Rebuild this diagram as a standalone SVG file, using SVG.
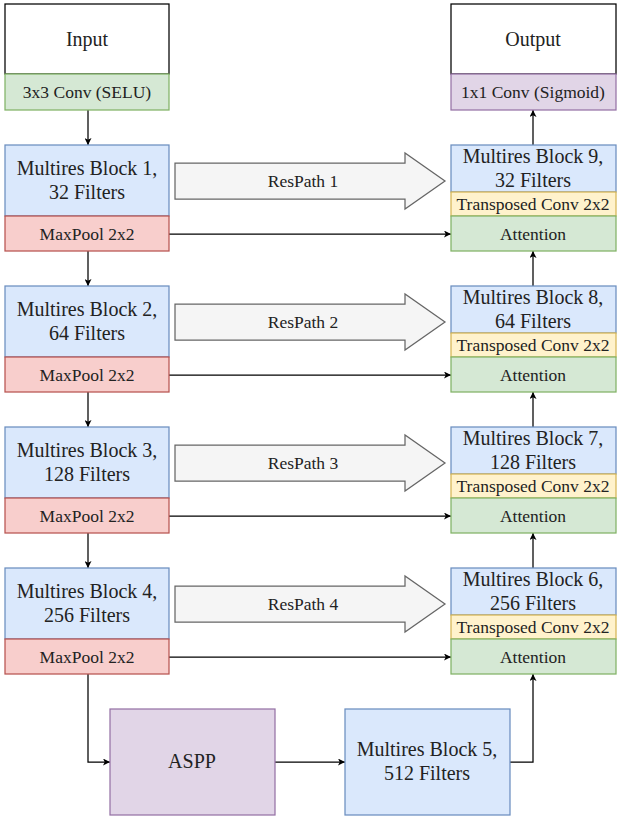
<svg xmlns="http://www.w3.org/2000/svg" width="620" height="820" viewBox="0 0 620 820">
<style>
text{font-family:"Liberation Serif","Times New Roman",serif;fill:#222;text-anchor:middle}
.big{font-size:20px}
.sm{font-size:17.5px}
rect{stroke-width:1.25}
.w{fill:#fff;stroke:#000}
.b{fill:#dae8fc;stroke:#6c8ebf}
.r{fill:#f8cecc;stroke:#b85450}
.g{fill:#d5e8d4;stroke:#82b366}
.y{fill:#fff2cc;stroke:#d6b656}
.p{fill:#e1d5e7;stroke:#9673a6}
.ra{fill:#f5f5f5;stroke:#666;stroke-width:1.25}
.c{fill:none;stroke:#000;stroke-width:1.25}
</style>
<defs>
<marker id="ah" viewBox="0 0 10 10" refX="10" refY="5" markerWidth="7" markerHeight="7" markerUnits="userSpaceOnUse" orient="auto">
<path d="M0,0 L10,5 L0,10 L2.5,5 Z" fill="#000"/>
</marker>
</defs>
<g id="connectors">
<path class="c" d="M88,110 V145" marker-end="url(#ah)"/>
<path class="c" d="M88,251 V286" marker-end="url(#ah)"/>
<path class="c" d="M88,392 V427" marker-end="url(#ah)"/>
<path class="c" d="M88,533 V568" marker-end="url(#ah)"/>
<path class="c" d="M88,674 V762 H110" marker-end="url(#ah)"/>
<path class="c" d="M275,762 H345" marker-end="url(#ah)"/>
<path class="c" d="M510,762 H533 V674" marker-end="url(#ah)"/>
<path class="c" d="M533,568 V533" marker-end="url(#ah)"/>
<path class="c" d="M533,427 V392" marker-end="url(#ah)"/>
<path class="c" d="M533,286 V251" marker-end="url(#ah)"/>
<path class="c" d="M533,145 V110" marker-end="url(#ah)"/>
<path class="c" d="M169,234 H451" marker-end="url(#ah)"/>
<path class="c" d="M169,375 H451" marker-end="url(#ah)"/>
<path class="c" d="M169,516 H451" marker-end="url(#ah)"/>
<path class="c" d="M169,657 H451" marker-end="url(#ah)"/>
</g>
<g id="respath1"><path class="ra" d="M175,163 H405 V153 L445,181 L405,209 V199 H175 Z"/><text class="sm" x="303" y="187">ResPath 1</text></g>
<g id="respath2"><path class="ra" d="M175,304 H405 V294 L445,322 L405,350 V340 H175 Z"/><text class="sm" x="303" y="328">ResPath 2</text></g>
<g id="respath3"><path class="ra" d="M175,445 H405 V435 L445,463 L405,491 V481 H175 Z"/><text class="sm" x="303" y="469">ResPath 3</text></g>
<g id="respath4"><path class="ra" d="M175,586 H405 V576 L445,604 L405,632 V622 H175 Z"/><text class="sm" x="303" y="610">ResPath 4</text></g>
<g id="input">
<rect class="w" x="5" y="4" width="164" height="70"/><text class="big" x="87" y="46">Input</text>
<rect class="g" x="5" y="74" width="164" height="36"/><text class="sm" x="87" y="98">3x3 Conv (SELU)</text>
</g>
<g id="output">
<rect class="w" x="451" y="4" width="165" height="70"/><text class="big" x="533" y="46">Output</text>
<rect class="p" x="451" y="74" width="165" height="36"/><text class="sm" x="533" y="98">1x1 Conv (Sigmoid)</text>
</g>
<g id="mb1">
<rect class="b" x="5" y="145" width="164" height="71"/><text class="big" x="87" y="175">Multires Block 1,</text><text class="big" x="87" y="199">32 Filters</text>
<rect class="r" x="5" y="216" width="164" height="35"/><text class="sm" x="87" y="240">MaxPool 2x2</text>
</g>
<g id="mb2">
<rect class="b" x="5" y="286" width="164" height="71"/><text class="big" x="87" y="316">Multires Block 2,</text><text class="big" x="87" y="340">64 Filters</text>
<rect class="r" x="5" y="357" width="164" height="35"/><text class="sm" x="87" y="381">MaxPool 2x2</text>
</g>
<g id="mb3">
<rect class="b" x="5" y="427" width="164" height="71"/><text class="big" x="87" y="457">Multires Block 3,</text><text class="big" x="87" y="481">128 Filters</text>
<rect class="r" x="5" y="498" width="164" height="35"/><text class="sm" x="87" y="522">MaxPool 2x2</text>
</g>
<g id="mb4">
<rect class="b" x="5" y="568" width="164" height="71"/><text class="big" x="87" y="598">Multires Block 4,</text><text class="big" x="87" y="622">256 Filters</text>
<rect class="r" x="5" y="639" width="164" height="35"/><text class="sm" x="87" y="663">MaxPool 2x2</text>
</g>
<g id="aspp">
<rect class="p" x="110" y="709" width="165" height="106"/><text class="big" x="192" y="768">ASPP</text>
</g>
<g id="mb5">
<rect class="b" x="345" y="709" width="165" height="106"/><text class="big" x="427" y="756">Multires Block 5,</text><text class="big" x="427" y="780">512 Filters</text>
</g>
<g id="mb9">
<rect class="b" x="451" y="145" width="165" height="47"/><text class="big" x="533" y="163">Multires Block 9,</text><text class="big" x="533" y="187">32 Filters</text>
<rect class="y" x="451" y="192" width="165" height="24"/><text class="sm" x="533" y="210">Transposed Conv 2x2</text>
<rect class="g" x="451" y="216" width="165" height="35"/><text class="sm" x="533" y="240">Attention</text>
</g>
<g id="mb8">
<rect class="b" x="451" y="286" width="165" height="47"/><text class="big" x="533" y="304">Multires Block 8,</text><text class="big" x="533" y="328">64 Filters</text>
<rect class="y" x="451" y="333" width="165" height="24"/><text class="sm" x="533" y="351">Transposed Conv 2x2</text>
<rect class="g" x="451" y="357" width="165" height="35"/><text class="sm" x="533" y="381">Attention</text>
</g>
<g id="mb7">
<rect class="b" x="451" y="427" width="165" height="47"/><text class="big" x="533" y="445">Multires Block 7,</text><text class="big" x="533" y="469">128 Filters</text>
<rect class="y" x="451" y="474" width="165" height="24"/><text class="sm" x="533" y="492">Transposed Conv 2x2</text>
<rect class="g" x="451" y="498" width="165" height="35"/><text class="sm" x="533" y="522">Attention</text>
</g>
<g id="mb6">
<rect class="b" x="451" y="568" width="165" height="47"/><text class="big" x="533" y="586">Multires Block 6,</text><text class="big" x="533" y="610">256 Filters</text>
<rect class="y" x="451" y="615" width="165" height="24"/><text class="sm" x="533" y="633">Transposed Conv 2x2</text>
<rect class="g" x="451" y="639" width="165" height="35"/><text class="sm" x="533" y="663">Attention</text>
</g>
</svg>
